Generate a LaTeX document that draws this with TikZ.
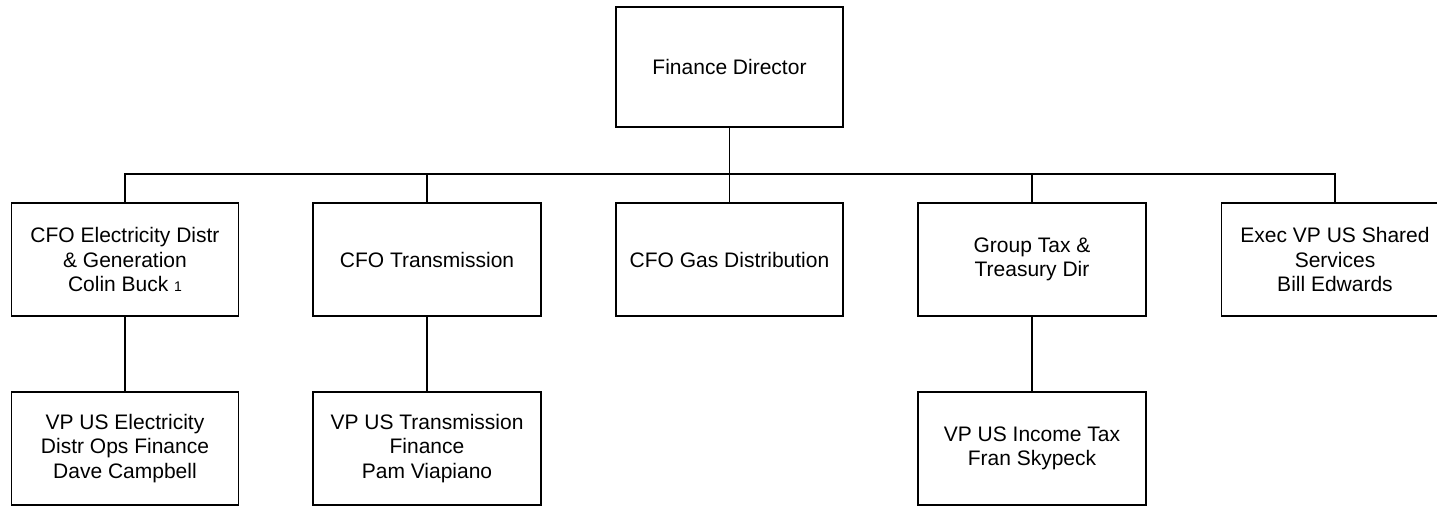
\documentclass[tikz,border=0pt]{standalone}
\usepackage{fontspec}
\setmainfont{Liberation Sans}
\newcommand\boxfont{\fontsize{21}{24.5}\selectfont}
\newcommand\smallnum[1]{{\fontsize{14}{16}\selectfont #1}}
\begin{document}
\begin{tikzpicture}[x=1pt,y=-1pt,
  box/.style={draw=black, line width=1.8pt, minimum width=227pt, minimum height=113pt,
    align=center, inner sep=0pt, font=\boxfont},
  link/.style={draw=black, line width=1.8pt}]
\useasboundingbox (0,0) rectangle (1437,506);
\clip (0,0) rectangle (1437,506);
% top
\node[box, minimum height=120pt] (fd) at (729.5,67) {Finance Director};
% level 2
\node[box] (c1) at (125,259.5) {CFO Electricity Distr\\\& Generation\\Colin Buck \smallnum{1}};
\node[box, minimum width=228pt] (c2) at (427,259.5) {CFO Transmission};
\node[box] (c3) at (729.5,259.5) {CFO Gas Distribution};
\node[box, minimum width=228pt] (c4) at (1032,259.5) {Group Tax \&\\Treasury Dir};
\node[box] (c5) at (1335,259.5) {Exec VP US Shared\\Services\\Bill Edwards};
% level 3
\node[box] (d1) at (125,448.5) {VP US Electricity\\Distr Ops Finance\\Dave Campbell};
\node[box, minimum width=228pt] (d2) at (427,448.5) {VP US Transmission\\Finance\\Pam Viapiano};
\node[box, minimum width=228pt] (d4) at (1032,448.5) {VP US Income Tax\\Fran Skypeck};
% connectors
\coordinate (j) at (729.5,174);
\draw[link] (fd.south) -- (j);
\draw[link] (c1.north) -- (c1.north |- j) -- (c5.north |- j) -- (c5.north);
\draw[link] (c2.north) -- (c2.north |- j);
\draw[link] (c3.north) -- (c3.north |- j);
\draw[link] (c4.north) -- (c4.north |- j);
\draw[link] (c1.south) -- (d1.north);
\draw[link] (c2.south) -- (d2.north);
\draw[link] (c4.south) -- (d4.north);
\end{tikzpicture}
\end{document}
